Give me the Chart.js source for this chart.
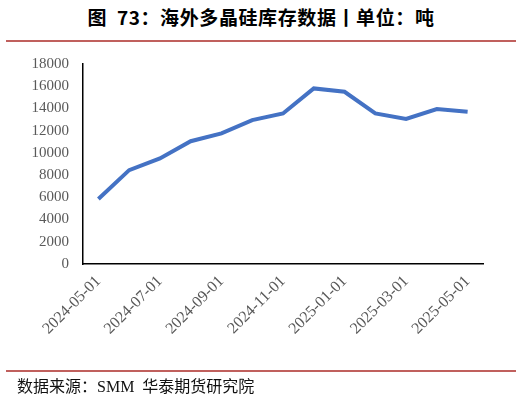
<!DOCTYPE html>
<html>
<head>
<meta charset="utf-8">
<script src="https://cdn.jsdelivr.net/npm/chart.js@4"></script>
<style>
  body { margin: 0; background: #fff; }
  #wrap { position: relative; width: 522px; height: 396px; overflow: hidden; }
  #title { position: absolute; left: 0; top: 3px; width: 522px; text-align: center;
           font: bold 19px "Noto Sans CJK SC", sans-serif; color: #000; letter-spacing: 0.6px; }
  .rule { position: absolute; left: 6px; width: 510px; height: 2px; background: #c0605d; }
  #source { position: absolute; left: 17px; top: 373px;
            font: 16px "Liberation Serif", "Noto Sans CJK SC", serif; color: #111; }
  canvas { position: absolute; left: 0; top: 0; }
</style>
</head>
<body>
<div id="wrap">
  <div id="title">图&nbsp;&nbsp;73：海外多晶硅库存数据丨单位：吨</div>
  <div class="rule" style="top:40px"></div>
  <canvas id="myChart" width="522" height="396"></canvas>
  <div class="rule" style="top:370px"></div>
  <div id="source">数据来源：SMM&nbsp;&nbsp;华泰期货研究院</div>
</div>
<script>
// monthly stock, tons
const months = ['2024-05-01', '2024-06-01', '2024-07-01', '2024-08-01', '2024-09-01', '2024-10-01',
  '2024-11-01', '2024-12-01', '2025-01-01', '2025-02-01', '2025-03-01', '2025-04-01', '2025-05-01'];
const stock = [5850, 8450, 9500, 11050, 11750, 12950, 13550, 15800, 15500, 13550, 13050, 13950, 13700];

const ctx = document.getElementById('myChart');

new Chart(ctx, {
    type: 'line',
    data: {
        labels: months,
        datasets: [{
            data: stock,
            borderColor: '#4472c4',
            borderWidth: 4,
            pointRadius: 0,
            tension: 0,
            fill: false
        }]
    },
    options: {
        responsive: false,
        animation: false,
        layout: { padding: { left: 0, top: 64, right: 39, bottom: 32 } },
        plugins: { legend: { display: false }, tooltip: { enabled: false } },
        scales: {
            x: {
                offset: true,
                grid: { display: false, drawTicks: false },
                border: { display: true, color: '#000', width: 1.5 },
                afterFit: s => { s.height = 100; },
                ticks: {
                    autoSkip: false,
                    minRotation: 45,
                    maxRotation: 45,
                    padding: 8,
                    color: '#595959',
                    font: { family: 'Liberation Serif', size: 16 },
                    callback: (v, i) => i % 2 === 0 ? months[i] : ''
                }
            },
            y: {
                min: 0,
                max: 18000,
                grid: { display: false, drawTicks: false },
                border: { display: true, color: '#000', width: 1.5 },
                afterFit: s => { s.width = 83; },
                ticks: {
                    stepSize: 2000,
                    padding: 14,
                    color: '#595959',
                    font: { family: 'Liberation Serif', size: 15 },
                    callback: v => String(v)
                }
            }
        }
    }
});
</script>
</body>
</html>
